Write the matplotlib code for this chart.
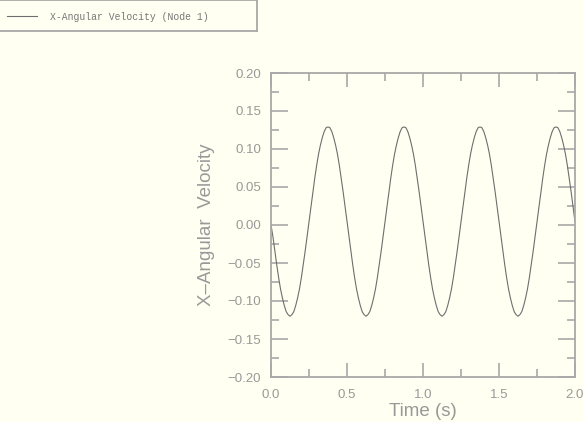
import matplotlib
matplotlib.use("Agg")
import matplotlib.pyplot as plt
from matplotlib.ticker import MultipleLocator

# Time samples (s) and X-angular velocity values
time_s = [i * 0.0125 for i in range(161)]
x_ang_vel = [
    0.000, -0.015, -0.034, -0.052, -0.069, -0.084, -0.096, -0.106, -0.114, -0.118,
    -0.120, -0.118, -0.114, -0.106, -0.096, -0.084, -0.069, -0.052, -0.034, -0.015,
    0.004, 0.024, 0.043, 0.061, 0.078, 0.093, 0.105, 0.115, 0.123, 0.128,
    0.129, 0.128, 0.123, 0.115, 0.105, 0.093, 0.078, 0.061, 0.043, 0.024,
    0.004, -0.015, -0.034, -0.052, -0.069, -0.084, -0.096, -0.106, -0.114, -0.118,
    -0.120, -0.118, -0.114, -0.106, -0.096, -0.084, -0.069, -0.052, -0.034, -0.015,
    0.004, 0.024, 0.043, 0.061, 0.078, 0.093, 0.105, 0.115, 0.123, 0.128,
    0.129, 0.128, 0.123, 0.115, 0.105, 0.093, 0.078, 0.061, 0.043, 0.024,
    0.004, -0.015, -0.034, -0.052, -0.069, -0.084, -0.096, -0.106, -0.114, -0.118,
    -0.120, -0.118, -0.114, -0.106, -0.096, -0.084, -0.069, -0.052, -0.034, -0.015,
    0.004, 0.024, 0.043, 0.061, 0.078, 0.093, 0.105, 0.115, 0.123, 0.128,
    0.129, 0.128, 0.123, 0.115, 0.105, 0.093, 0.078, 0.061, 0.043, 0.024,
    0.004, -0.015, -0.034, -0.052, -0.069, -0.084, -0.096, -0.106, -0.114, -0.118,
    -0.120, -0.118, -0.114, -0.106, -0.096, -0.084, -0.069, -0.052, -0.034, -0.015,
    0.004, 0.024, 0.043, 0.061, 0.078, 0.093, 0.105, 0.115, 0.123, 0.128,
    0.129, 0.128, 0.123, 0.115, 0.105, 0.093, 0.078, 0.061, 0.043, 0.024,
    0.004,
]
series_label = "X-Angular Velocity (Node 1)"
x_label = "Time (s)"
y_label = "X\u2013Angular  Velocity"

bg = "#fffff2"
axis_col = "#a8a8a8"
text_col = "#999999"
line_col = "#6e6e6e"

W, H = 583, 422
fig = plt.figure(figsize=(W / 100, H / 100), dpi=100, facecolor=bg)
ax = fig.add_axes([271 / W, 1 - 377 / H, (575 - 271) / W, (377 - 73) / H])
ax.set_facecolor(bg)

ax.plot(time_s, x_ang_vel, color=line_col, lw=0.8)

ax.set_xlim(0.0, 2.0)
ax.set_ylim(-0.20, 0.20)
ax.xaxis.set_major_locator(MultipleLocator(0.5))
ax.xaxis.set_minor_locator(MultipleLocator(0.25))
ax.yaxis.set_major_locator(MultipleLocator(0.05))
ax.yaxis.set_minor_locator(MultipleLocator(0.025))
ax.xaxis.set_major_formatter(plt.FuncFormatter(lambda v, p: f"{v:.1f}".replace("-", "\u2212")))
ax.yaxis.set_major_formatter(plt.FuncFormatter(lambda v, p: f"{v:.2f}".replace("-", "\u2212")))

for s in ax.spines.values():
    s.set_color(axis_col)
    s.set_linewidth(1.3)

ax.tick_params(which="both", direction="in", top=True, right=True,
               color=axis_col, width=1.2, labelcolor=text_col)
ax.tick_params(axis="y", which="major", length=12, pad=7, labelsize=9.5)
ax.tick_params(axis="y", which="minor", length=6)
ax.tick_params(axis="x", which="major", length=10, pad=9, labelsize=9.5)
ax.tick_params(axis="x", which="minor", length=6)
for lab in ax.get_xticklabels() + ax.get_yticklabels():
    lab.set_family("Liberation Sans")

ax.set_xlabel(x_label, color=text_col, fontsize=13.5, family="Liberation Sans", labelpad=1)
ax.set_ylabel(y_label, color=text_col, fontsize=13.5, family="Liberation Sans", labelpad=9)

# Legend box in the top-left corner
leg_ax = fig.add_axes([-0.002, 1 - 31 / H, 258 / W, 31 / H])
leg_ax.set_facecolor(bg)
leg_ax.set_xlim(0, 258)
leg_ax.set_ylim(31, 0)
leg_ax.set_xticks([])
leg_ax.set_yticks([])
for s in leg_ax.spines.values():
    s.set_color(axis_col)
    s.set_linewidth(1.3)
leg_ax.plot([8, 38], [16, 16], color=line_col, lw=0.8)
leg_ax.text(51, 16.5, series_label, family="Liberation Mono", fontsize=7,
            color="#777777", va="center", ha="left")

fig.savefig("out.png", dpi=100, facecolor=bg)
